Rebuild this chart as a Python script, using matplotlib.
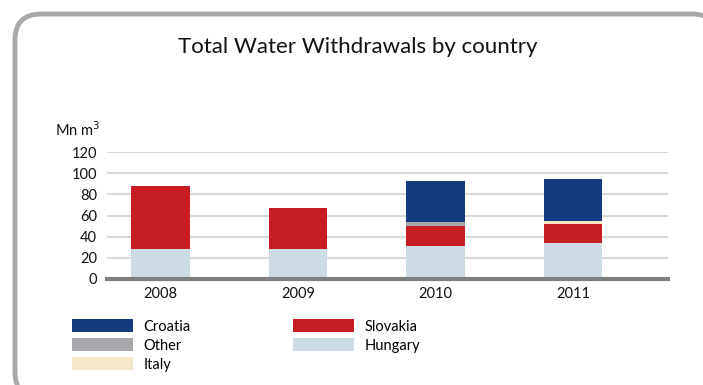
import numpy as np
import matplotlib.pyplot as plt
from matplotlib.patches import FancyBboxPatch

plt.rcParams['font.family'] = ['Lato', 'DejaVu Sans']

years = ["2008", "2009", "2010", "2011"]
hungary = [28.5, 28.5, 31.0, 34.0]
slovakia = [59.5, 38.6, 19.0, 18.3]
other = [0.0, 0.0, 4.0, 0.0]
italy = [0.0, 0.0, 0.0, 2.2]
croatia = [0.0, 0.0, 38.6, 40.0]

colors = {
    "Croatia": "#163a7e",
    "Slovakia": "#c71e24",
    "Other": "#a6a8ab",
    "Hungary": "#cddce4",
    "Italy": "#f5e7c9",
}

W, H = 703, 385
fig = plt.figure(figsize=(W / 100, H / 100), dpi=100)

# rounded grey frame, partly cut off at right and bottom
fl, ft, fr, fb = 15, 14, 718, 398
frame = FancyBboxPatch((fl / W, (H - fb) / H), (fr - fl) / W, (fb - ft) / H,
                       boxstyle="round,pad=0,rounding_size=0.037",
                       transform=fig.transFigure, facecolor="white",
                       edgecolor="#a7a9ac", linewidth=3.5, zorder=-5,
                       mutation_aspect=W / H)
fig.patches.append(frame)

ax = fig.add_axes([107 / W, (H - 279) / H, (668 - 107) / W, (279 - 152) / H])
ax.set_facecolor("none")

x = np.arange(len(years))
width = 0.425
bottom = np.zeros(len(years))
series = [("Hungary", hungary), ("Slovakia", slovakia), ("Other", other),
          ("Italy", italy), ("Croatia", croatia)]
handles = {}
for name, vals in series:
    vals = np.array(vals)
    b = ax.bar(x, vals, width, bottom=bottom, color=colors[name], label=name,
               zorder=3, linewidth=0)
    handles[name] = b
    bottom += vals

ax.set_xlim(-0.39, 3.69)
ax.set_ylim(0, 120)
ax.set_yticks(np.arange(0, 121, 20))
ax.set_xticks(x)
ax.set_xticklabels(years)
ax.grid(axis="y", color="#d9d9d9", linewidth=1.5, zorder=0)
ax.set_axisbelow(True)
for s in ["top", "right", "left"]:
    ax.spines[s].set_visible(False)
ax.spines["bottom"].set_color("#7f7f7f")
ax.spines["bottom"].set_linewidth(3)
ax.spines["bottom"].set_zorder(4)
ax.tick_params(axis="both", length=0, labelsize=10.5, colors="#111111")
ax.tick_params(axis="y", pad=7)
ax.tick_params(axis="x", pad=6)
for lab in ax.get_yticklabels():
    lab.set_clip_on(False)

fig.text(100 / W, (H - 130) / H, "Mn m$^3$", ha="right", va="center",
         fontsize=10.5, color="#111111")
fig.text(358 / W, (H - 47) / H, "Total Water Withdrawals by country",
         ha="center", va="center", fontsize=16, color="#111111")

order = ["Croatia", "Other", "Italy", "Slovakia", "Hungary"]
leg = fig.legend([handles[n] for n in order], order, ncol=2,
                 loc="upper left", bbox_to_anchor=(72 / W, (H - 319) / H),
                 frameon=False, fontsize=10.5, handlelength=4.2,
                 handleheight=1.0, handletextpad=0.7, labelspacing=0.32,
                 columnspacing=7.0, borderaxespad=0, borderpad=0)

fig.savefig("out.png", dpi=100)
